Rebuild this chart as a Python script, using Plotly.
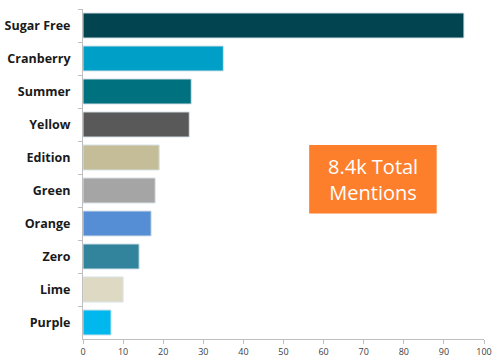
import plotly.graph_objects as go

categories = ["Sugar Free", "Cranberry", "Summer", "Yellow", "Edition",
              "Green", "Orange", "Zero", "Lime", "Purple"]
values = [95, 35, 27, 26.5, 19, 18, 17, 14, 10, 7]
colors = ["#02444F", "#009FC7", "#00717F", "#595959", "#C4BD97",
          "#A5A5A5", "#558ED5", "#31849B", "#DDD9C3", "#00B8EE"]
x_ticks = [0, 10, 20, 30, 40, 50, 60, 70, 80, 90, 100]
callout_text = "8.4k Total<br>Mentions"

fig = go.Figure(go.Bar(
    x=values, y=categories, orientation="h",
    marker=dict(color=colors, line=dict(color="#D9E4EA", width=1)),
    showlegend=False,
))

fig.update_layout(
    width=500, height=362,
    margin=dict(l=83, r=16, t=9, b=23),
    paper_bgcolor="white", plot_bgcolor="white",
    bargap=0.24,
    font=dict(family="Open Sans, Noto Sans, sans-serif"),
)
fig.update_xaxes(
    range=[0, 100], tickvals=x_ticks, showgrid=False, zeroline=False,
    showline=True, linecolor="#BFBFBF", linewidth=1,
    ticks="outside", ticklen=4, tickcolor="#BFBFBF",
    tickfont=dict(size=9, color="#404040"), automargin=False,
)
fig.update_yaxes(
    autorange="reversed", showgrid=False, showline=True,
    linecolor="#BFBFBF", linewidth=1,
    ticks="outside", ticklen=4, tickcolor="#BFBFBF", tickson="boundaries",
    tickfont=dict(size=12.5, color="#1a1a1a", family="Open Sans, sans-serif", weight="bold"),
    ticklabelstandoff=9, automargin=False,
)

fig.add_shape(type="rect", xref="x", yref="paper",
              x0=56.4, x1=88.2, y0=0.38, y1=0.588,
              fillcolor="#FD7F2C", line=dict(width=0), layer="above")
fig.add_annotation(xref="x", yref="paper", x=72.3, y=0.484,
                   text=callout_text, showarrow=False,
                   font=dict(size=20, color="white", family="Open Sans, sans-serif"),
                   align="center")

fig.write_html("out.html", config={"displayModeBar": False},
               post_script="document.body.style.margin='0';document.body.style.padding='0';")
